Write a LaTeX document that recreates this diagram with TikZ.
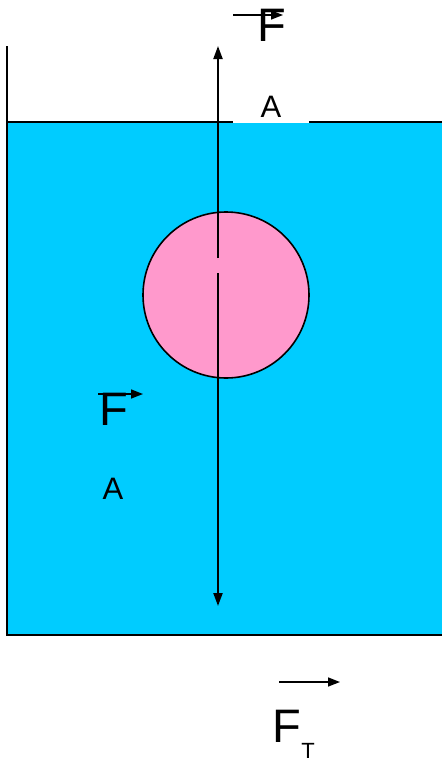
\documentclass[tikz,border=0pt]{standalone}
\usepackage{fontspec}
\setmainfont{Liberation Sans}
\usetikzlibrary{arrows.meta}
\definecolor{water}{HTML}{00CCFF}
\definecolor{ball}{HTML}{FF99CC}
\begin{document}
\begin{tikzpicture}[x=1pt,y=-1pt,
  wall/.style={line width=2.5pt,black},
  force/.style={line width=2.1pt,-{Triangle[length=13pt,width=9pt]}},
  vec/.style={line width=1.5pt,-{Triangle[length=12pt,width=9pt]}},
  big/.style={inner sep=0pt,font=\fontsize{47}{47}\selectfont},
  lab/.style={inner sep=0pt,font=\fontsize{31}{31}\selectfont},
  sub/.style={inner sep=0pt,font=\fontsize{22}{22}\selectfont}]
\useasboundingbox (0,0) rectangle (442,763);
% water
\fill[water] (7,122) rectangle (442,635);
\coordinate (wtop) at (7,46);
\coordinate (wbl) at (7,635);
\coordinate (wbr) at (442,635);
\coordinate (wtl) at (7,122);
\coordinate (wtr) at (442,122);
\draw[wall] (wtop) -- (wbl) -- (wbr);
\draw[wall] (wtl) -- (wtr);
% white label box covering surface line
\fill[white] (233,86) rectangle (309,122.8);
\node[lab] (A1) at (271,107) {A};
% ball
\node[circle,draw=black,line width=1.6pt,fill=ball,minimum size=166pt,inner sep=0pt] (ball) at (226,295) {};
% forces
\coordinate (up0) at (218,258);
\coordinate (up1) at (218,46);
\coordinate (dn0) at (218,273);
\coordinate (dn1) at (218,606);
\draw[force] (up0) -- (up1);
\draw[force] (dn0) -- (dn1);
% top F with vector arrow
\node[big] (F1) at (271.5,25) {F};
\coordinate (v1a) at (233,15);
\coordinate (v1b) at (283,15);
\draw[vec] (v1a) -- (v1b);
% left F
\node[big] (F2) at (114,409) {F};
\coordinate (v2a) at (98,394);
\coordinate (v2b) at (143,394);
\draw[vec] (v2a) -- (v2b);
\node[lab] (A2) at (113,489) {A};
% bottom F_T
\coordinate (v3a) at (279,682);
\coordinate (v3b) at (340,682);
\draw[vec] (v3a) -- (v3b);
\node[big] (F3) at (286.5,726.5) {F};
\node[sub] (T3) at (308,751) {T};
\end{tikzpicture}
\end{document}
